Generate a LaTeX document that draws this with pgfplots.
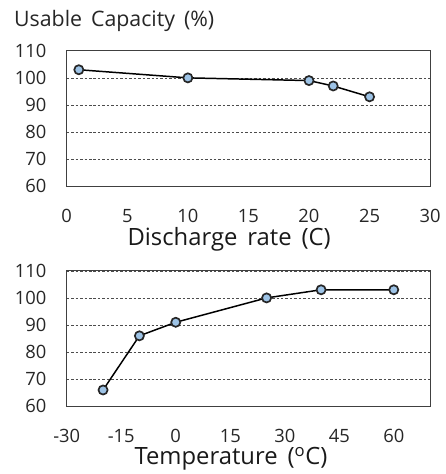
\documentclass[border=0pt]{standalone}
\usepackage{fontspec}
\setmainfont{Open Sans}
\usepackage{pgfplots}
\pgfplotsset{compat=1.18}

\definecolor{markfill}{HTML}{9DC3E6}
\definecolor{boxcol}{HTML}{404040}
\newcommand\wsp{\spaceskip=0.42em\relax}

\pgfplotsset{
  capstyle/.style={
    scale only axis,
    width=365bp, height=136bp,
    ymin=60, ymax=110,
    ytick={60,70,80,90,100,110},
    axis line style={boxcol, line width=0.8pt},
    major tick length=0pt,
    ymajorgrids=true,
    grid style={black!70, dash pattern=on 2.5pt off 2pt, line width=0.6pt},
    tick label style={font=\fontsize{18.5}{18.5}\selectfont, text=black!85},
    yticklabel style={anchor=east, xshift=-17bp},
    xticklabel style={anchor=base, yshift=-36bp},
    /pgf/number format/assume math mode=true,
    xlabel style={font=\fontsize{24}{24}\selectfont\wsp, text=black!90, anchor=base},
  },
  capline/.style={black, line width=1.5pt, mark=*,
      mark size=4.6pt, mark options={fill=markfill, draw=black!85, line width=1.7pt}},
}

\begin{document}
\begin{tikzpicture}
\path (0,0) rectangle (447bp,-474bp);
\node[anchor=base west, inner sep=0pt, font=\fontsize{21.5}{21.5}\selectfont\wsp, text=black!85] at (14bp,-27bp) {Usable Capacity (\%)};

\begin{axis}[capstyle, at={(67bp,-187bp)}, anchor=south west,
  xmin=0, xmax=30, xtick={0,5,...,30},
  xlabel={Discharge rate (C)},
  xlabel style={at={(axis description cs:0.447,0)}, yshift=-60bp}]
\addplot[capline] coordinates {(1,103) (10,100) (20,99) (22,97) (25,93)};
\end{axis}

\begin{axis}[capstyle, at={(67bp,-408bp)}, anchor=south west,
  xmin=-30, xmax=70, xtick={-30,-15,...,60},
  xlabel={Temperature (\textsuperscript{o}C)},
  xlabel style={at={(axis description cs:0.452,0)}, yshift=-59bp}]
\addplot[capline] coordinates {(-20,66) (-10,86) (0,91) (25,100) (40,103) (60,103)};
\end{axis}
\end{tikzpicture}
\end{document}
